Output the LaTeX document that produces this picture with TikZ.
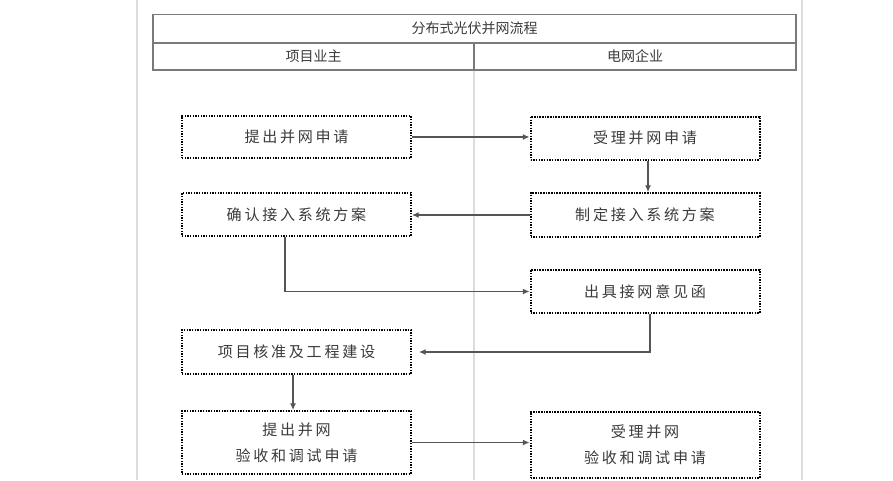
\documentclass[tikz,border=0pt]{standalone}
\usepackage{fontspec}
\usepackage{xcolor}
\usepackage{tikz}
\usetikzlibrary{arrows.meta, positioning, calc}
\newfontfamily\cjk{Noto Sans CJK SC}
\newfontfamily\cjkwide[LetterSpace=18]{Noto Sans CJK SC}
\definecolor{txtgray}{HTML}{3A3A3A}
\definecolor{linegray}{HTML}{555555}
\definecolor{tabgray}{HTML}{7A7A7A}
\definecolor{guidegray}{HTML}{DDDDDD}

\begin{document}
\begin{tikzpicture}[
  x=0.75pt, y=-0.75pt,
  >={Latex[length=5pt,width=4.5pt]},
  every node/.style={font=\cjk\fontsize{10.5}{15}\selectfont, text=txtgray},
  cell/.style={rectangle, draw=tabgray, line width=1.4pt, inner sep=0pt, minimum height=28*0.75pt},
  stepbox/.style={rectangle, draw=black, line width=1.5pt, dash pattern=on 1.1pt off 0.9pt,
    minimum width=229*0.75pt, minimum height=43*0.75pt, inner sep=2pt, align=center,
    font=\cjkwide\fontsize{11.3}{19.5}\selectfont},
  arr/.style={->, draw=linegray, line width=0.9pt}
]
  \useasboundingbox (0,0) rectangle (893,480);

  % faint guide lines
  \draw[guidegray, line width=0.8pt] (137,0) -- (137,480);
  \draw[guidegray, line width=0.8pt] (802,0) -- (802,480);
  \draw[guidegray, line width=0.8pt] (474,70) -- (474,480);

  % header table
  \node[cell, minimum width=643*0.75pt] (title) at (474.5,28.5) {分布式光伏并网流程};
  \node[cell, minimum width=321*0.75pt, minimum height=27*0.75pt] (owner) at (313.5,56.5) {项目业主};
  \node[cell, minimum width=322*0.75pt, minimum height=27*0.75pt] (grid) at (635,56.5) {电网企业};

  % steps
  \node[stepbox, minimum height=42*0.75pt] (req) at (296.5,137) {提出并网申请};
  \node[stepbox] (acc) at (645,138) {受理并网申请};
  \node[stepbox, minimum height=44*0.75pt] (plan) at (645,215) {制定接入系统方案};
  \node[stepbox] (conf) at (296.5,214.5) {确认接入系统方案};
  \node[stepbox] (opin) at (645,291.5) {出具接网意见函};
  \node[stepbox, minimum height=44*0.75pt] (build) at (296.5,352) {项目核准及工程建设};
  \node[stepbox, minimum height=63*0.75pt] (chk) at (296.5,442.5) {提出并网\\验收和调试申请};
  \node[stepbox, minimum height=66*0.75pt] (chkR) at (645,445) {受理并网\\验收和调试申请};

  % flow
  \draw[arr] (req.east) -- (req.east -| acc.west);
  \draw[arr] ([xshift=2.25pt]acc.south) -- ([xshift=2.25pt]plan.north);
  \draw[arr] (plan.west) -- (plan.west -| conf.east);
  \draw[arr] ([xshift=-8.6pt]conf.south) |- (opin.west);
  \draw[arr] ([xshift=3.75pt]opin.south) |- ([xshift=5.25pt]build.east);
  \draw[arr] ([xshift=-2.6pt]build.south) -- ([xshift=-2.6pt]chk.north);
  \draw[arr] (chk.east) -- (chk.east -| chkR.west);
\end{tikzpicture}
\end{document}
